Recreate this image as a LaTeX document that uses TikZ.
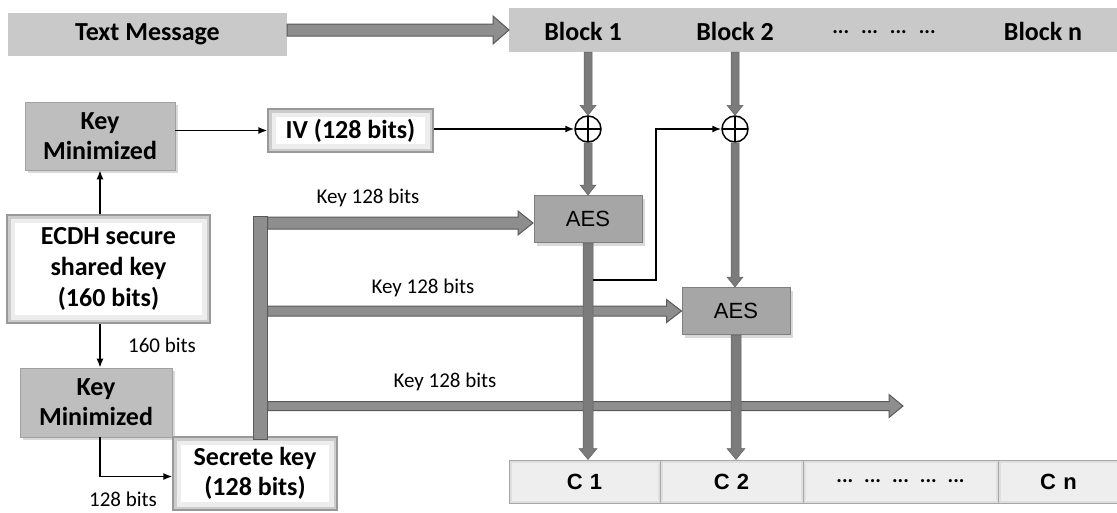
\documentclass[tikz,border=0pt]{standalone}
\usepackage{fontspec}
\setmainfont{Carlito}
\newfontfamily\arialf{Liberation Sans}
\usetikzlibrary{shadows,arrows.meta,calc}
\definecolor{lightbar}{HTML}{C9C9C9}
\definecolor{kmfill}{HTML}{BEBEBE}
\definecolor{aesfill}{HTML}{A6A6A6}
\definecolor{aesdraw}{HTML}{7F7F7F}
\definecolor{fatfill}{HTML}{8E8E8E}
\definecolor{fatdraw}{HTML}{5A5A5A}
\definecolor{vfill}{HTML}{7B7B7B}
\definecolor{cfill}{HTML}{EEEEEE}
% horizontal fat arrow: from, to, shaft half, head half, head length, style
\newcommand\fatH[6]{\path[#6] let \p1=(#1), \p2=(#2) in
  (\x1,\y1+#3) -- (\x2-#5,\y1+#3) -- (\x2-#5,\y1+#4) -- (\x2,\y1) --
  (\x2-#5,\y1-#4) -- (\x2-#5,\y1-#3) -- (\x1,\y1-#3) -- cycle;}
% vertical (downward) fat arrow
\newcommand\fatV[6]{\path[#6] let \p1=(#1), \p2=(#2) in
  (\x1-#3,\y1) -- (\x1-#3,\y2+#5) -- (\x1-#4,\y2+#5) -- (\x1,\y2) --
  (\x1+#4,\y2+#5) -- (\x1+#3,\y2+#5) -- (\x1+#3,\y1) -- cycle;}
\tikzset{
  boldtxt/.style={font=\fontsize{26}{30}\selectfont\bfseries},
  plainbox/.style={fill=lightbar, draw=none, inner sep=0pt},
  kmbox/.style={fill=kmfill, draw=kmfill!85!black, line width=0.6pt, align=center,
    boldtxt, inner sep=0pt,
    drop shadow={shadow xshift=3pt, shadow yshift=-3pt, opacity=0.3}},
  glowbox/.style={fill=white, draw=gray!80, line width=1.2pt, align=center,
    boldtxt, inner sep=0pt,
    path picture={
      \draw[gray!14, line width=16pt] (path picture bounding box.south west) rectangle (path picture bounding box.north east);
      \draw[gray!40, line width=7pt] (path picture bounding box.south west) rectangle (path picture bounding box.north east);}},
  aesbox/.style={fill=aesfill, draw=aesdraw, line width=1pt,
    font=\arialf\fontsize{22}{26}\selectfont, minimum width=108pt, minimum height=47pt,
    drop shadow={shadow xshift=3pt, shadow yshift=-3pt, opacity=0.3}},
  ccell/.style={fill=cfill, draw=gray!70, line width=1pt, inner sep=0pt,
    minimum height=43pt, font=\arialf\fontsize{22}{26}\selectfont\bfseries,
    path picture={
      \draw[gray!25, line width=5pt] (path picture bounding box.south west) rectangle (path picture bounding box.north east);}},
  thinarrow/.style={line width=1.6pt, -{Latex[length=9pt,width=7pt]}},
  fat/.style={fill=fatfill, draw=fatdraw, line width=1pt},
  vfat/.style={fill=vfill, draw=vfill!80!black, line width=0.5pt},
  lbl/.style={font=\fontsize{21}{24}\selectfont},
  dotstxt/.style={font=\fontsize{21}{24}\selectfont\bfseries},
  xorc/.style={circle, draw, fill=white, line width=1.5pt, minimum size=26pt, inner sep=0pt,
    path picture={\draw[line width=1.5pt] (path picture bounding box.north) -- (path picture bounding box.south)
      (path picture bounding box.west) -- (path picture bounding box.east);}}
}
\begin{document}
\begin{tikzpicture}[x=1pt, y=-1pt]
\useasboundingbox (0,0) rectangle (1117,512);

% top row
\node[plainbox, minimum width=279pt, minimum height=43pt, boldtxt] (txt) at (147.5,34) {Text Message};
\node[plainbox, minimum width=610pt, minimum height=44pt, anchor=west] (bar) at (509,30) {};
\node[boldtxt] (b1) at (583,31) {Block 1};
\node[boldtxt] (b2) at (735,31) {Block 2};
\node[dotstxt] (bd) at (884,32) {...\hspace{12pt}...\hspace{12pt}...\hspace{12pt}...};
\node[boldtxt] (bn) at (1043,31) {Block n};

% left column
\node[kmbox, minimum width=150pt, minimum height=68pt] (km1) at (100,136) {Key\\Minimized};
\node[glowbox, minimum width=165pt, minimum height=43pt] (iv) at (350.5,130.5) {IV (128 bits)};
\node[glowbox, minimum width=203pt, minimum height=108pt, font=\fontsize{26}{31}\selectfont\bfseries] (ecdh) at (108.5,269) {ECDH secure\\shared key\\(160 bits)};
\node[kmbox, minimum width=152pt, minimum height=69pt] (km2) at (96,402.5) {Key\\Minimized};
\node[glowbox, minimum width=164pt, minimum height=73pt] (sk) at (255,473.5) {Secrete key\\(128 bits)};

% XOR and AES
\node[xorc] (x1) at (588,129) {};
\node[xorc] (x2) at (735,129) {};
\node[aesbox] (aes1) at (588,219) {AES};
\node[aesbox] (aes2) at (736,311) {AES};

% cipher blocks
\node[ccell, minimum width=151pt] (c1) at (584.5,481.5) {C\,\,1};
\node[ccell, minimum width=143pt] (c2) at (731.5,481.5) {C\,\,2};
\node[ccell, minimum width=195pt, font=\fontsize{21}{24}\selectfont\bfseries] (cd) at (900.5,481.5) {...\hspace{11pt}...\hspace{11pt}...\hspace{11pt}...\hspace{11pt}...};
\node[ccell, minimum width=121pt] (cn) at (1058.5,481.5) {C\,\,n};

% key bus
\coordinate (k1) at (533,223);
\coordinate (k3) at (903,406);
\node[fat, minimum width=14pt, minimum height=223pt, inner sep=0pt] (bus) at (260,327.5) {};
\fatH{bus.east |- k1}{k1}{6pt}{12pt}{15pt}{fat}
\fatH{bus.east |- aes2.west}{aes2.west}{5pt}{11.5pt}{15pt}{fat}
\fatH{bus.east |- k3}{k3}{4.5pt}{11.5pt}{14pt}{fat}
\node[lbl] (l1) at (368,198) {Key 128 bits};
\node[lbl] (l2) at (423,288) {Key 128 bits};
\node[lbl] (l3) at (445,382) {Key 128 bits};

% big top arrow
\fatH{txt.east |- bar.west}{bar.west}{6pt}{14pt}{16pt}{fat}

% vertical data arrows
\fatV{x1.north |- bar.south}{x1.north}{4pt}{8pt}{10pt}{vfat}
\fatV{x1.south}{aes1.north}{4pt}{8pt}{10pt}{vfat}
\fatV{aes1.south}{aes1.south |- c1.north}{5pt}{9pt}{11pt}{vfat}
\fatV{x2.north |- bar.south}{x2.north}{4pt}{8pt}{10pt}{vfat}
\fatV{x2.south}{aes2.north}{4pt}{8pt}{10pt}{vfat}
\fatV{aes2.south}{aes2.south |- c2.north}{5pt}{9pt}{11pt}{vfat}

% thin connectors
\coordinate (fb) at (593,280);
\draw[thinarrow] (fb) -- ++(63,0) |- (x2.west);
\draw[thinarrow] (iv.east |- x1) -- (x1.west);
\draw[thinarrow] (km1.east |- iv) -- (iv.west);
\draw[thinarrow] (km1.south |- ecdh.north) -- (km1.south);
\draw[thinarrow] (km1.south |- ecdh.south) -- (km1.south |- km2.north);
\draw[thinarrow] (km1.south |- km2.south) |- ([yshift=-3pt]sk.west);
\node[lbl] (l160) at (162,345) {160 bits};
\node[lbl] (l128) at (123,499) {128 bits};
\end{tikzpicture}
\end{document}
